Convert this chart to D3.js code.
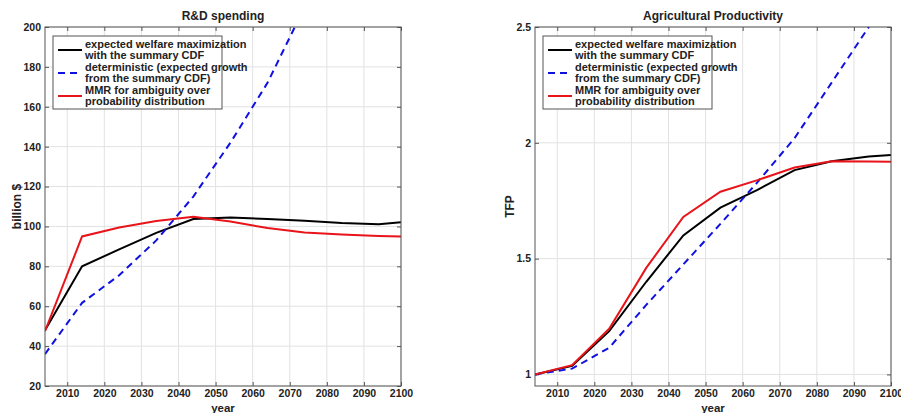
<!DOCTYPE html>
<html>
<head>
<meta charset="utf-8">
<script src="https://cdn.jsdelivr.net/npm/d3@7"></script>
<style>
  body { margin: 0; background: #fff; }
  svg text { font-family: "Liberation Sans Narrow", "Liberation Sans", Arial, sans-serif; font-weight: bold; fill: #222; }
</style>
</head>
<body>
<div id="chart"></div>
<script>
const W = 901
const H = 413

const years = [2004, 2014, 2024, 2034, 2044, 2054, 2064, 2074, 2084, 2094, 2100]

// R&D spending (billion $)
const rdWelfare = [48, 80, 88.5, 96.8, 103.7, 104.5, 103.7, 102.9, 101.7, 101.1, 102.1]
const rdDeterministic = [36, 61.7, 75.5, 93, 115, 142, 172, 210, 256, 312, 350]
const rdMMR = [47.5, 95, 99.5, 102.7, 104.8, 102.5, 99.2, 97, 96, 95.2, 94.9]

// Agricultural productivity (TFP)
const tfpWelfare = [1.0, 1.037, 1.187, 1.40, 1.60, 1.72, 1.797, 1.882, 1.92, 1.941, 1.947]
const tfpDeterministic = [1.0, 1.025, 1.115, 1.30, 1.475, 1.65, 1.83, 2.02, 2.26, 2.5, 2.65]
const tfpMMR = [1.0, 1.04, 1.197, 1.46, 1.68, 1.789, 1.839, 1.893, 1.92, 1.919, 1.918]

const xTicks = [2010, 2020, 2030, 2040, 2050, 2060, 2070, 2080, 2090, 2100]
const rdTicks = [20, 40, 60, 80, 100, 120, 140, 160, 180, 200]
const tfpTicks = [1, 1.5, 2, 2.5]

const legendLabels = [
  ['expected welfare maximization', 'with the summary CDF'],
  ['deterministic (expected growth', 'from the summary CDF)'],
  ['MMR for ambiguity over', 'probability distribution']
]

const svg = d3.select('#chart').append('svg')
  .attr('width', W)
  .attr('height', H)

function panel (opts) {
  const { left, right, top, bottom, yDomain, yTicks, yFmt, title, yLabel, yLabelX, series, id } = opts
  const x = d3.scaleLinear().domain([2004, 2100]).range([left, right])
  const y = d3.scaleLinear().domain(yDomain).range([bottom, top])

  const g = svg.append('g')

  // grid
  g.append('g').selectAll('line').data(xTicks).join('line')
    .attr('x1', d => x(d)).attr('x2', d => x(d))
    .attr('y1', top).attr('y2', bottom)
    .attr('stroke', '#e2e2e2').attr('stroke-width', 1)
  g.append('g').selectAll('line').data(yTicks).join('line')
    .attr('x1', left).attr('x2', right)
    .attr('y1', d => y(d)).attr('y2', d => y(d))
    .attr('stroke', '#e2e2e2').attr('stroke-width', 1)

  // axes with inward ticks
  const xAxis = d3.axisBottom(x).tickValues(xTicks).tickFormat(d3.format('d'))
    .tickSizeInner(-4).tickSizeOuter(0).tickPadding(4)
  const xAxisTop = d3.axisTop(x).tickValues(xTicks).tickFormat('')
    .tickSizeInner(-4).tickSizeOuter(0)
  const yAxis = d3.axisLeft(y).tickValues(yTicks).tickFormat(yFmt)
    .tickSizeInner(-4).tickSizeOuter(0).tickPadding(4)
  const yAxisRight = d3.axisRight(y).tickValues(yTicks).tickFormat('')
    .tickSizeInner(-4).tickSizeOuter(0)

  const styleAxis = sel => {
    sel.select('.domain').remove()
    sel.selectAll('line').attr('stroke', '#555')
    sel.selectAll('text').style('font-size', '10.5px').attr('fill', '#222')
  }
  g.append('g').attr('transform', `translate(0,${bottom})`).call(xAxis).call(styleAxis)
  g.append('g').attr('transform', `translate(0,${top})`).call(xAxisTop).call(styleAxis)
  g.append('g').attr('transform', `translate(${left},0)`).call(yAxis).call(styleAxis)
  g.append('g').attr('transform', `translate(${right},0)`).call(yAxisRight).call(styleAxis)

  // clip for lines
  svg.append('clipPath').attr('id', id)
    .append('rect').attr('x', left).attr('y', top)
    .attr('width', right - left).attr('height', bottom - top)

  const line = d3.line().x((d, i) => x(years[i])).y(d => y(d))
  const lg = g.append('g').attr('clip-path', `url(#${id})`)
  series.forEach(s => {
    lg.append('path')
      .datum(s.values)
      .attr('d', line)
      .attr('fill', 'none')
      .attr('stroke', s.color)
      .attr('stroke-width', 2)
      .attr('stroke-dasharray', s.dash || null)
  })

  // frame
  g.append('rect')
    .attr('x', left).attr('y', top)
    .attr('width', right - left).attr('height', bottom - top)
    .attr('fill', 'none').attr('stroke', '#555').attr('stroke-width', 1)

  // title and labels
  g.append('text').attr('x', (left + right) / 2).attr('y', 20)
    .attr('text-anchor', 'middle').style('font-size', '12px').text(title)
  g.append('text').attr('x', (left + right) / 2).attr('y', 412)
    .attr('text-anchor', 'middle').style('font-size', '11.5px').text('year')
  g.append('text')
    .attr('transform', `translate(${yLabelX},${(top + bottom) / 2}) rotate(-90)`)
    .attr('text-anchor', 'middle').style('font-size', '12px').text(yLabel)

  // legend
  const lx = left + 8
  const ly = top + 9
  const leg = g.append('g')
  leg.append('rect').attr('x', lx).attr('y', ly)
    .attr('width', 169).attr('height', 73)
    .attr('fill', '#fff').attr('stroke', '#555').attr('stroke-width', 1)
  series.forEach((s, i) => {
    const cy = ly + 14 + i * 23
    leg.append('line')
      .attr('x1', lx + 5).attr('x2', lx + 29)
      .attr('y1', cy).attr('y2', cy)
      .attr('stroke', s.color).attr('stroke-width', 2)
      .attr('stroke-dasharray', s.dash || null)
    legendLabels[i].forEach((t, j) => {
      leg.append('text').attr('x', lx + 32).attr('y', cy - 2 + j * 11)
        .style('font-size', '11px').text(t)
    })
  })
}

panel({
  id: 'clipRD',
  left: 45, right: 401, top: 27, bottom: 386,
  yDomain: [20, 200], yTicks: rdTicks, yFmt: d3.format('d'),
  title: 'R&D spending', yLabel: 'billion $', yLabelX: 21,
  series: [
    { values: rdWelfare, color: '#000' },
    { values: rdDeterministic, color: '#1010e0', dash: '7,5' },
    { values: rdMMR, color: '#e8141a' }
  ]
})

panel({
  id: 'clipTFP',
  left: 535, right: 891, top: 27, bottom: 386,
  yDomain: [0.95, 2.5], yTicks: tfpTicks, yFmt: d => d3.format('')(d),
  title: 'Agricultural Productivity', yLabel: 'TFP', yLabelX: 514,
  series: [
    { values: tfpWelfare, color: '#000' },
    { values: tfpDeterministic, color: '#1010e0', dash: '7,5' },
    { values: tfpMMR, color: '#e8141a' }
  ]
})
</script>
</body>
</html>
